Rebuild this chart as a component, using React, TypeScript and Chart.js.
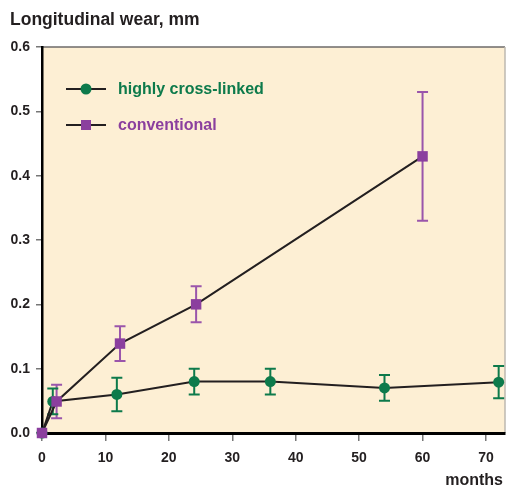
import React, { useEffect, useRef } from "react";
import { Chart, registerables } from "chart.js";

Chart.register(...registerables);

const chartTitle = "Longitudinal wear, mm";
const xAxisTitle = "months";
const xTickValues = [0, 10, 20, 30, 40, 50, 60, 70];
const yTickValues = [0, 0.1, 0.2, 0.3, 0.4, 0.5, 0.6];
const yTickLabels = ["0.0", "0.1", "0.2", "0.3", "0.4", "0.5", "0.6"];

const crossLinkedLabel = "highly cross-linked";
const crossLinkedMonths = [0, 1.7, 11.8, 24, 36, 54, 72];
const crossLinkedWear = [0, 0.049, 0.06, 0.08, 0.08, 0.07, 0.079];
const crossLinkedErr = [0, 0.02, 0.026, 0.02, 0.02, 0.02, 0.025];

const conventionalLabel = "conventional";
const conventionalMonths = [0, 2.3, 12.3, 24.3, 60];
const conventionalWear = [0, 0.049, 0.139, 0.2, 0.43];
const conventionalErr = [0, 0.026, 0.027, 0.028, 0.1];

const GREEN = "#0d7a4b";
const PURPLE = "#8b3f9e";
const PURPLE_BAR = "#9a55ab";
const BG = "#fdefd4";
const TEXT = "#231f20";
const FONT = "'Liberation Sans', Arial, Helvetica, sans-serif";

const errorBarPlugin = {
  id: "errorBars",
  beforeDatasetsDraw(chart: any) {
    const ctx = chart.ctx;
    const xs = chart.scales.x;
    const ys = chart.scales.y;
    chart.data.datasets.forEach((ds: any) => {
      const errs: number[] = ds.errors || [];
      ctx.save();
      ctx.strokeStyle = ds.errorColor;
      ctx.lineWidth = 2;
      ds.data.forEach((p: any, i: number) => {
        const e = errs[i];
        if (!e) return;
        const x = xs.getPixelForValue(p.x);
        const yt = ys.getPixelForValue(p.y + e);
        const yb = ys.getPixelForValue(p.y - e);
        ctx.beginPath();
        ctx.moveTo(x, yt);
        ctx.lineTo(x, yb);
        ctx.moveTo(x - 5.5, yt);
        ctx.lineTo(x + 5.5, yt);
        ctx.moveTo(x - 5.5, yb);
        ctx.lineTo(x + 5.5, yb);
        ctx.stroke();
      });
      ctx.restore();
    });
  },
};

const backgroundPlugin = {
  id: "plotBackground",
  beforeDraw(chart: any) {
    const { ctx, chartArea: a } = chart;
    ctx.save();
    ctx.fillStyle = BG;
    ctx.fillRect(a.left, a.top, a.right - a.left, a.bottom - a.top);
    ctx.strokeStyle = "#6d6a68";
    ctx.lineWidth = 1.5;
    ctx.beginPath();
    ctx.moveTo(a.left, a.top);
    ctx.lineTo(a.right, a.top);
    ctx.stroke();
    ctx.strokeStyle = "#bdb8b0";
    ctx.beginPath();
    ctx.moveTo(a.right, a.top);
    ctx.lineTo(a.right, a.bottom);
    ctx.stroke();
    ctx.restore();
  },
};

const textPlugin = {
  id: "textsAndLegend",
  afterDraw(chart: any) {
    const { ctx, chartArea: a } = chart;
    ctx.save();
    ctx.fillStyle = TEXT;
    ctx.font = `bold 17.5px ${FONT}`;
    ctx.textBaseline = "middle";
    ctx.textAlign = "left";
    ctx.fillText(chartTitle, 10, 20);
    ctx.font = `bold 16px ${FONT}`;
    ctx.textAlign = "right";
    ctx.fillText(xAxisTitle, 503, 481);

    // legend
    const items = [
      { y: 89, ds: chart.data.datasets[1] },
      { y: 125, ds: chart.data.datasets[0] },
    ];
    items.forEach(({ y, ds }) => {
      ctx.strokeStyle = "#231f20";
      ctx.lineWidth = 2;
      ctx.beginPath();
      ctx.moveTo(a.left + 24, y);
      ctx.lineTo(a.left + 64, y);
      ctx.stroke();
      ctx.fillStyle = ds.pointBackgroundColor;
      if (ds.pointStyle === "rect") {
        ctx.fillRect(a.left + 44 - 5, y - 5, 10, 10);
      } else {
        ctx.beginPath();
        ctx.arc(a.left + 44, y, 5.5, 0, Math.PI * 2);
        ctx.fill();
      }
      ctx.font = `bold 16px ${FONT}`;
      ctx.textAlign = "left";
      ctx.fillStyle = ds.labelColor;
      ctx.fillText(ds.label, a.left + 76, y + 1);
    });
    ctx.restore();
  },
};

export default function App() {
  const ref = useRef<HTMLCanvasElement>(null);

  useEffect(() => {
    if (!ref.current) return;
    const chart = new Chart(ref.current, {
      type: "line",
      data: {
        datasets: [
          {
            label: conventionalLabel,
            data: conventionalMonths.map((m, i) => ({ x: m, y: conventionalWear[i] })),
            errors: conventionalErr,
            errorColor: PURPLE_BAR,
            labelColor: PURPLE,
            borderColor: "#231f20",
            borderWidth: 2,
            pointStyle: "rect",
            pointRadius: 7.4,
            pointBackgroundColor: PURPLE,
            pointBorderWidth: 0,
            pointBorderColor: PURPLE,
            tension: 0,
            clip: false,
          } as any,
          {
            label: crossLinkedLabel,
            data: crossLinkedMonths.map((m, i) => ({ x: m, y: crossLinkedWear[i] })),
            errors: crossLinkedErr,
            errorColor: GREEN,
            labelColor: GREEN,
            borderColor: "#231f20",
            borderWidth: 2,
            pointStyle: "circle",
            pointRadius: 5.5,
            pointBackgroundColor: GREEN,
            pointBorderWidth: 0,
            pointBorderColor: GREEN,
            tension: 0,
            clip: false,
          } as any,
        ],
      },
      options: {
        animation: false,
        responsive: false,
        layout: { autoPadding: false, padding: { top: 47, right: 1, left: 0, bottom: 0 } },
        plugins: {
          legend: { display: false },
          title: { display: false },
          tooltip: { enabled: false },
        },
        scales: {
          x: {
            type: "linear",
            min: 0,
            max: 73,
            afterBuildTicks: (s: any) => {
              s.ticks = xTickValues.map((v) => ({ value: v }));
            },
            afterFit: (s: any) => {
              s.height = 53;
              s.paddingLeft = 0;
              s.paddingRight = 0;
            },
            grid: {
              drawOnChartArea: false,
              drawTicks: true,
              tickLength: 8,
              color: "#777",
              lineWidth: 1.5,
            },
            border: { display: true, color: "#000", width: 3 },
            ticks: {
              padding: 9,
              color: TEXT,
              font: { family: FONT, size: 14, weight: "bold" },
              maxRotation: 0,
              autoSkip: false,
            },
          },
          y: {
            type: "linear",
            min: 0,
            max: 0.6,
            afterBuildTicks: (s: any) => {
              s.ticks = yTickValues.map((v) => ({ value: v }));
            },
            afterFit: (s: any) => {
              s.width = 42;
              s.paddingTop = 0;
              s.paddingBottom = 0;
            },
            grid: {
              drawOnChartArea: false,
              drawTicks: true,
              tickLength: 6,
              color: "#777",
              lineWidth: 1.5,
            },
            border: { display: true, color: "#000", width: 2.5 },
            ticks: {
              padding: 6,
              color: TEXT,
              font: { family: FONT, size: 14, weight: "bold" },
              callback: (_v: any, i: number) => yTickLabels[i],
              autoSkip: false,
            },
          },
        },
      } as any,
      plugins: [backgroundPlugin, errorBarPlugin, textPlugin],
    });
    return () => chart.destroy();
  }, []);

  return (
    <div style={{ position: "absolute", left: 0, top: 0, width: 506, height: 486, background: "#fff" }}>
      <canvas ref={ref} width={506} height={486} style={{ display: "block" }} />
    </div>
  );
}
